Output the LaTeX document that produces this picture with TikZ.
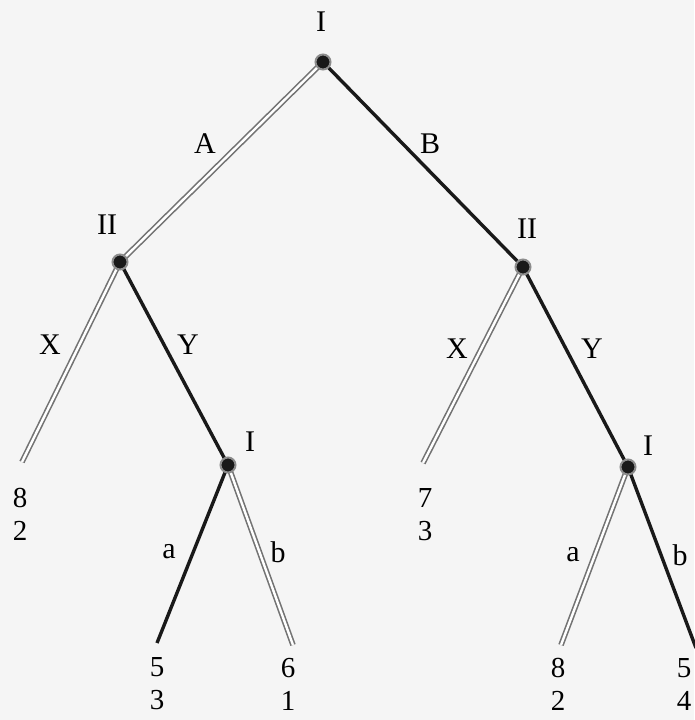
\documentclass[tikz,border=0pt]{standalone}
\usepackage{fontspec}
\setmainfont{Liberation Serif}
\begin{document}
\begin{tikzpicture}[x=1pt,y=-1pt,
  dec/.style={circle,fill=black!90,draw=black!45,line width=2pt,minimum size=15pt,inner sep=0pt},
  chosen/.style={draw=black!55,line width=1.6pt,double=white,double distance=2.4pt},
  other/.style={draw=black!90,line width=3.4pt},
  lbl/.style={font=\fontsize{30}{34}\selectfont,inner sep=0pt},
  pay/.style={font=\fontsize{29}{33}\selectfont,inner sep=0pt,align=center}]
\fill[white!96!black] (0,0) rectangle (694,720);
\useasboundingbox (0,0) rectangle (694,720);
% decision nodes positions
\coordinate (r) at (323,62);
\coordinate (l2) at (120,262);
\coordinate (r2) at (523,267);
\coordinate (l1) at (228,465);
\coordinate (r1) at (628,467);
% leaf ends
\coordinate (lx) at (22,462);
\coordinate (rx) at (423,463);
\coordinate (la) at (157,643);
\coordinate (lb) at (293,645);
\coordinate (ra) at (561,645);
\coordinate (rb) at (696,648);
% edges
\draw[chosen] (r) -- (l2);
\draw[other] (r) -- (r2);
\draw[chosen] (l2) -- (lx);
\draw[other] (l2) -- (l1);
\draw[chosen] (r2) -- (rx);
\draw[other] (r2) -- (r1);
\draw[other] (l1) -- (la);
\draw[chosen] (l1) -- (lb);
\draw[chosen] (r1) -- (ra);
\draw[other] (r1) -- (rb);
% nodes
\node[dec] (nr) at (r) {};
\node[dec] (nl2) at (l2) {};
\node[dec] (nr2) at (r2) {};
\node[dec] (nl1) at (l1) {};
\node[dec] (nr1) at (r1) {};
% player labels
\node[lbl] (tr) at (321,22) {I};
\node[lbl] (tl2) at (107,225) {II};
\node[lbl] (tr2) at (527,229) {II};
\node[lbl] (tl1) at (250,442) {I};
\node[lbl] (tr1) at (648,446) {I};
% action labels
\node[lbl] (eA) at (205,144) {A};
\node[lbl] (eB) at (430,144) {B};
\node[lbl] (eX1) at (50,345) {X};
\node[lbl] (eY1) at (188,345) {Y};
\node[lbl] (eX2) at (457,349) {X};
\node[lbl] (eY2) at (592,349) {Y};
\node[lbl] (ea1) at (169,552) {a};
\node[lbl] (eb1) at (278,552) {b};
\node[lbl] (ea2) at (573,555) {a};
\node[lbl] (eb2) at (680,555) {b};
% payoffs
\node[pay] (p1) at (20,514) {8\\2};
\node[pay] (p2) at (425,515) {7\\3};
\node[pay] (p3) at (157,684) {5\\3};
\node[pay] (p4) at (288,684) {6\\1};
\node[pay] (p5) at (558,684) {8\\2};
\node[pay] (p6) at (684,684) {5\\4};
\end{tikzpicture}
\end{document}
